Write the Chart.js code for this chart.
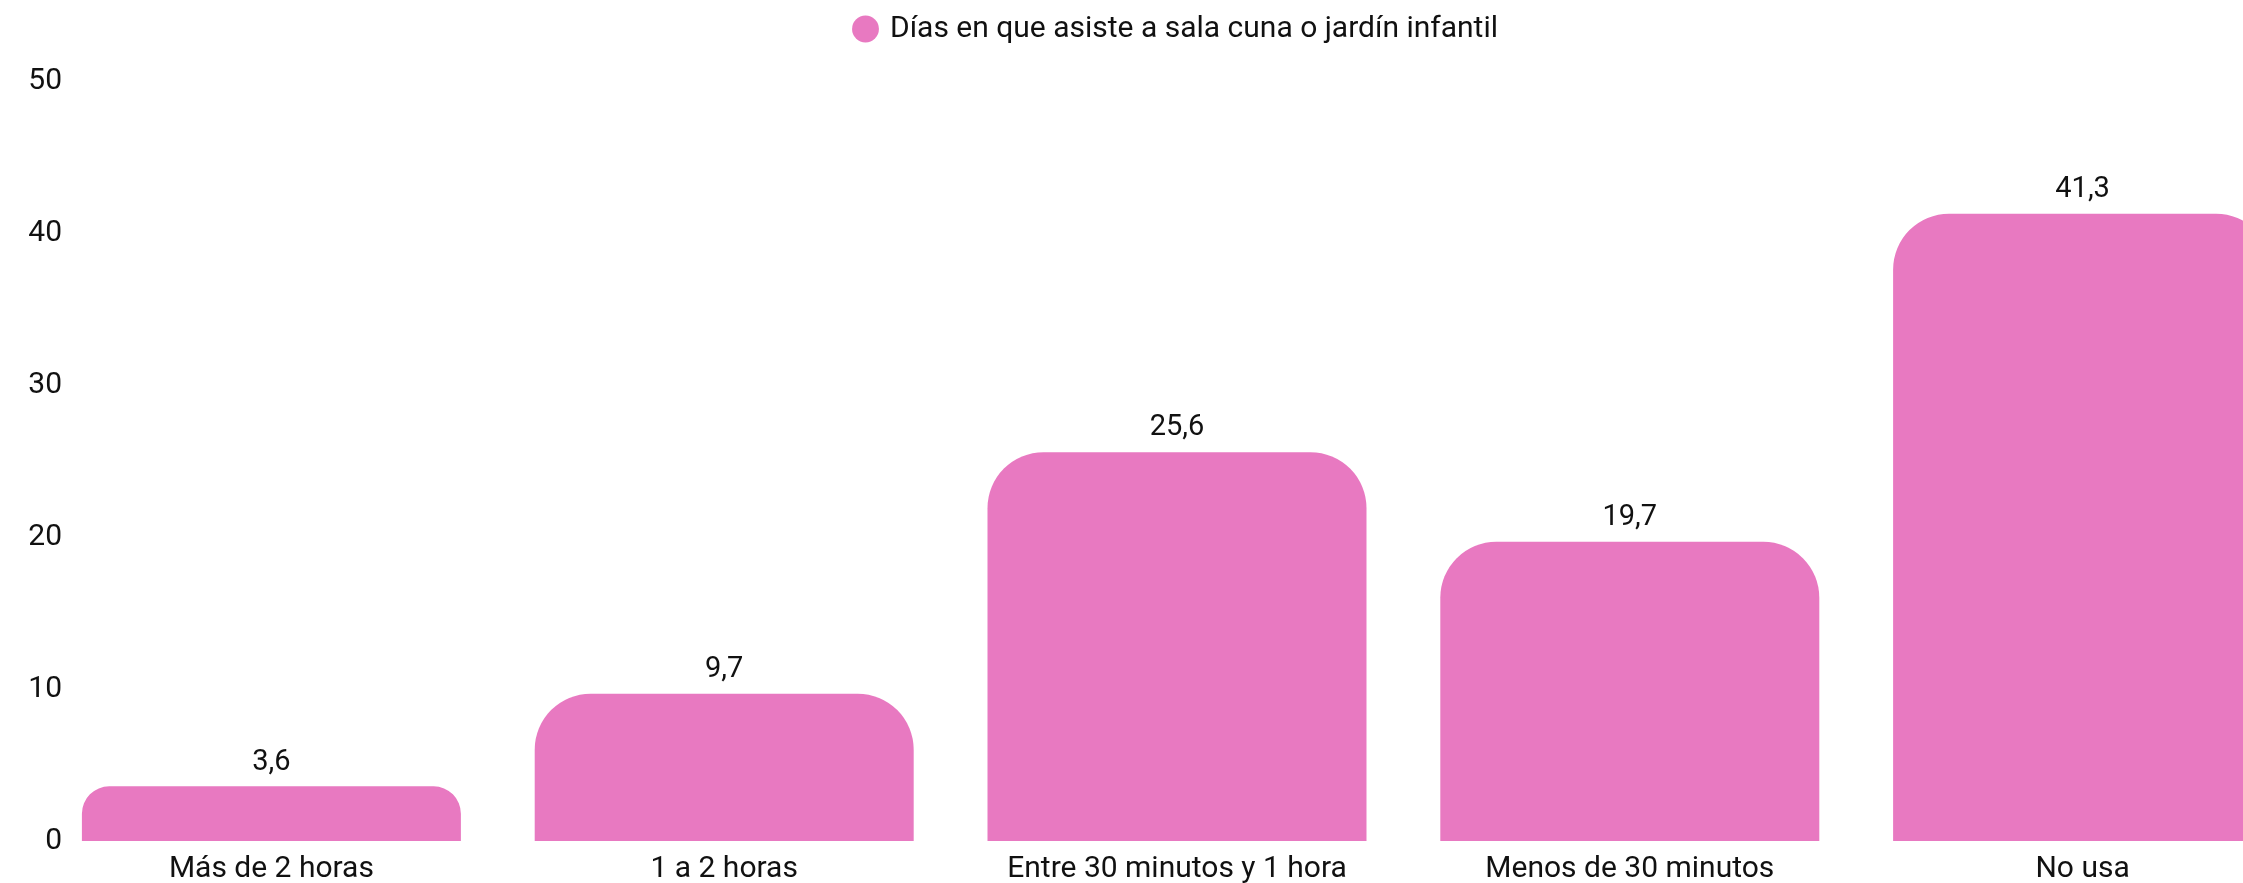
<!DOCTYPE html>
<html>
<head>
<meta charset="utf-8">
<script src="https://cdn.jsdelivr.net/npm/chart.js@4/dist/chart.umd.min.js"></script>
<style>
  html, body { margin: 0; padding: 0; background: #ffffff; overflow: hidden; }
  #wrap { position: relative; width: 2309px; height: 883px; }
</style>
</head>
<body>
<div id="wrap"><canvas id="c"></canvas></div>
<script>
const categories = ["Más de 2 horas", "1 a 2 horas", "Entre 30 minutos y 1 hora", "Menos de 30 minutos", "No usa"];
const seriesLabel = "Días en que asiste a sala cuna o jardín infantil";
const seriesValues = [3.6, 9.7, 25.6, 19.7, 41.3];
const yTicks = [0, 10, 20, 30, 40, 50];

const FONT = "Roboto, 'Noto Sans', sans-serif";
const TEXT = "#111111";
const PINK = "#e879c1";

const valueLabels = {
  id: 'valueLabels',
  afterDatasetsDraw(chart) {
    const ctx = chart.ctx;
    const meta = chart.getDatasetMeta(0);
    ctx.save();
    ctx.font = "29px " + FONT;
    ctx.fillStyle = TEXT;
    ctx.textAlign = 'center';
    ctx.textBaseline = 'middle';
    meta.data.forEach((bar, i) => {
      const v = chart.data.datasets[0].data[i];
      ctx.fillText(v.toFixed(1).replace('.', ','), bar.x, bar.y - 24);
    });
    ctx.restore();
  }
};

// extra breathing room between the legend row and the plot area
const legendSpacer = {
  id: 'legendSpacer',
  beforeLayout(chart) {
    const lg = chart.legend;
    if (lg && !lg.__spaced) {
      const fit = lg.fit;
      lg.fit = function () { fit.call(this); this.height += 27.5; };
      lg.__spaced = true;
    }
  }
};

new Chart(document.getElementById('c'), {
  type: 'bar',
  data: {
    labels: categories,
    datasets: [{
      label: seriesLabel,
      data: seriesValues,
      backgroundColor: PINK,
      borderWidth: 0,
      borderRadius: 56,
      categoryPercentage: 1,
      barPercentage: 0.837
    }]
  },
  options: {
    responsive: true,
    maintainAspectRatio: false,
    animation: false,
    layout: { padding: { top: -14, left: 0, right: 0, bottom: -15 } },
    plugins: {
      legend: {
        display: true,
        position: 'top',
        fullSize: false,
        labels: {
          usePointStyle: true,
          pointStyle: 'circle',
          boxWidth: 19,
          boxHeight: 19,
          padding: 28,
          color: TEXT,
          font: { family: FONT, size: 30 }
        }
      },
      tooltip: { enabled: false }
    },
    scales: {
      x: {
        grid: { display: false, drawTicks: false, tickLength: 0 },
        border: { display: false },
        ticks: {
          color: TEXT,
          padding: 12,
          maxRotation: 0,
          autoSkip: false,
          font: { family: FONT, size: 30, lineHeight: 1.1 }
        }
      },
      y: {
        min: 0,
        max: 50,
        afterFit(scale) { scale.width = 45; },
        afterBuildTicks(scale) { scale.ticks = yTicks.map(v => ({ value: v })); },
        grid: { display: false, drawTicks: false, tickLength: 0 },
        border: { display: false },
        ticks: {
          color: TEXT,
          mirror: true,
          crossAlign: 'far',
          padding: -16.7,
          font: { family: FONT, size: 30 }
        }
      }
    }
  },
  plugins: [valueLabels, legendSpacer]
});
</script>
</body>
</html>
